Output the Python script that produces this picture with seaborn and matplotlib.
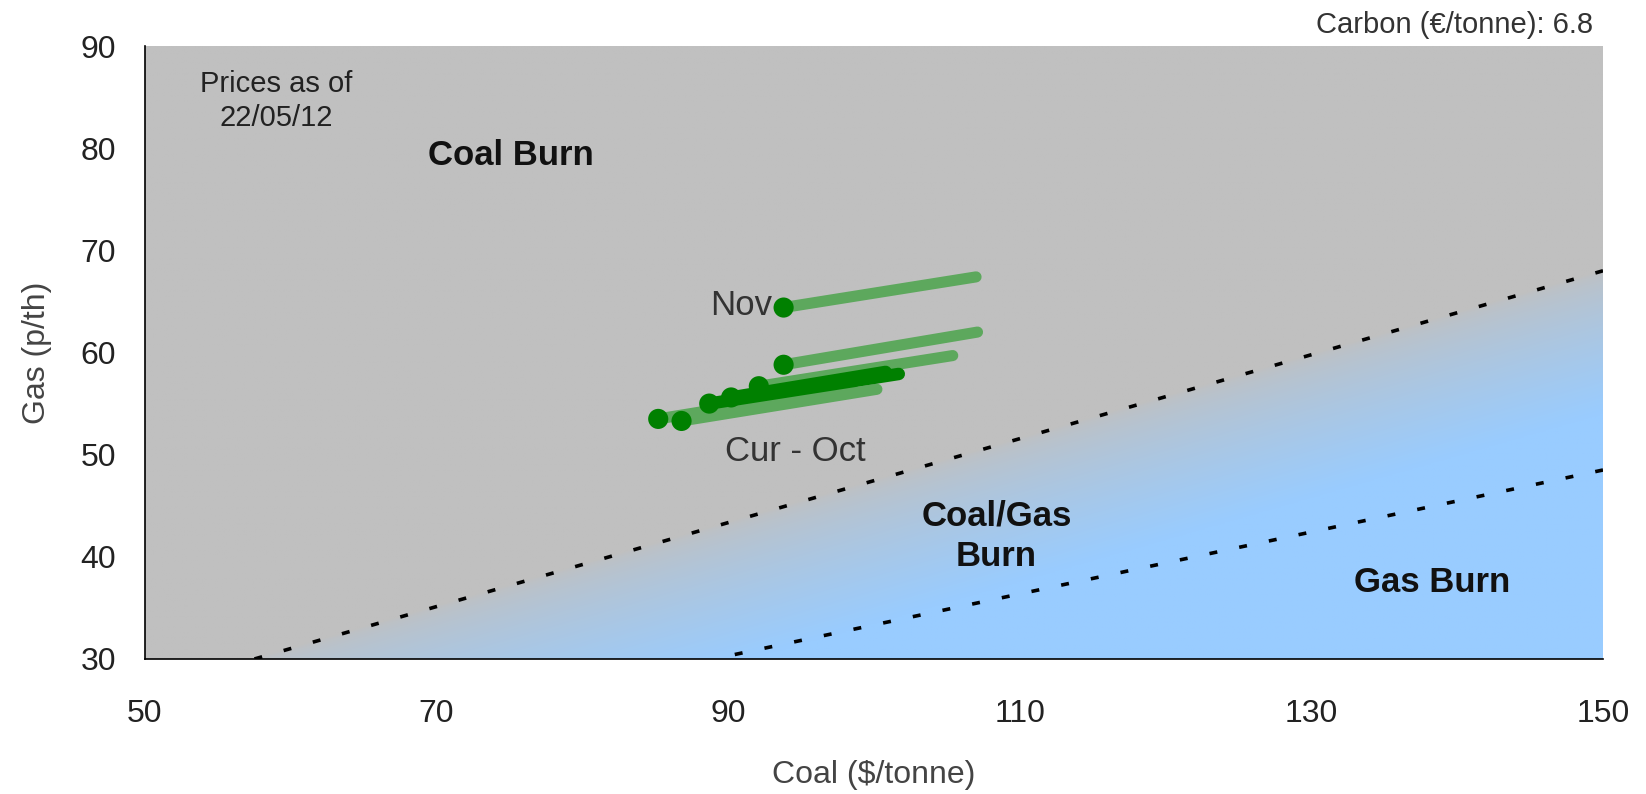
import matplotlib
matplotlib.use("Agg")
import matplotlib.pyplot as plt
import numpy as np
import pandas as pd
import seaborn as sns

# switching lines (coal $/t, gas p/th), drawn from the right-hand end
upper_coal = [150.0, 57.5]
upper_gas = [68.0, 30.0]
lower_coal = [150.0, 89.0]
lower_gas = [48.5, 30.0]

# forward contracts: current point and where the trail starts
contracts = ["Cur", "Jun", "Jul", "Aug", "Sep", "Oct", "Nov"]
coal_now = [85.2, 86.8, 88.7, 90.2, 92.1, 93.8, 93.8]
gas_now = [53.5, 53.3, 55.0, 55.6, 56.7, 58.8, 64.4]
coal_then = [98.5, 100.2, 101.7, 100.8, 105.4, 107.1, 107.0]
gas_then = [56.6, 56.4, 57.9, 58.1, 59.7, 62.0, 67.4]
trail_dark = [False, False, True, True, False, False, False]

GREY = np.array([0xC0, 0xC0, 0xC0]) / 255
BLUE = np.array([0x99, 0xCC, 0xFF]) / 255

sns.set_style("white")
plt.rcParams["font.family"] = ["Liberation Sans", "DejaVu Sans"]

fig = plt.figure(figsize=(16.46, 7.94), dpi=100)
ax = fig.add_axes([145 / 1646, 1 - 659 / 794, 1458 / 1646, 613 / 794])

# background: grey, fading to blue below the upper switching line
xs = np.linspace(50, 150, 800)
ys = np.linspace(30, 90, 500)
gx, gy = np.meshgrid(xs, ys)
edge = np.interp(gx, upper_coal[::-1], upper_gas[::-1])
t = np.clip((edge - gy) / 14.0, 0, 1)
t = np.sqrt(t) * 0.5 + t * 0.5
img = GREY[None, None, :] * (1 - t[..., None]) + BLUE[None, None, :] * t[..., None]
ax.imshow(img, extent=[50, 150, 30, 90], origin="lower", aspect="auto", zorder=0)

lines = pd.DataFrame({
    "coal": upper_coal + lower_coal,
    "gas": upper_gas + lower_gas,
    "line": ["upper", "upper", "lower", "lower"],
})
for name, grp in lines.groupby("line"):
    ax.plot(grp["coal"], grp["gas"], color="black", lw=2.6,
            linestyle=(0, (2.2, 6.2)), zorder=2)

for c0, g0, c1, g1, dark in zip(coal_now, gas_now, coal_then, gas_then, trail_dark):
    if dark:
        continue
    ax.plot([c0, c1], [g0, g1], color="#5DA85D", lw=8, solid_capstyle="round", zorder=3)
for c0, g0, c1, g1, dark in zip(coal_now, gas_now, coal_then, gas_then, trail_dark):
    if dark:
        ax.plot([c0, c1], [g0, g1], color="#008000", lw=9, solid_capstyle="round", zorder=4)

pts = pd.DataFrame({"coal": coal_now, "gas": gas_now, "contract": contracts})
sns.scatterplot(data=pts, x="coal", y="gas", ax=ax, color="#008000", s=210,
                marker="o", edgecolor="none", zorder=5)

ax.set_xlim(50, 150)
ax.set_ylim(30, 90)
ax.set_xticks(range(50, 151, 20))
ax.set_yticks(range(30, 91, 10))
ax.tick_params(direction="out", length=7, width=1.2, colors="black",
               labelcolor="#222222", labelsize=23)
ax.tick_params(axis="x", pad=22)
ax.tick_params(axis="y", pad=14)
for side in ["top", "right"]:
    ax.spines[side].set_visible(False)
for side in ["left", "bottom"]:
    ax.spines[side].set_color("black")
    ax.spines[side].set_linewidth(1.2)

ax.set_xlabel("Coal ($/tonne)", fontsize=23, color="#444444", labelpad=22)
ax.set_ylabel("Gas (p/th)", fontsize=23, color="#444444", labelpad=20)

ax.text(59.0, 84.6, "Prices as of\n22/05/12", fontsize=21, color="#222222",
        ha="center", va="center", linespacing=1.25)
ax.text(75.1, 79.3, "Coal Burn", fontsize=25, fontweight="bold", color="#111111",
        ha="center", va="center")
ax.text(108.4, 42.0, "Coal/Gas\nBurn", fontsize=25, fontweight="bold", color="#111111",
        ha="center", va="center", linespacing=1.3)
ax.text(138.3, 37.5, "Gas Burn", fontsize=25, fontweight="bold", color="#111111",
        ha="center", va="center")
ax.text(93.0, 64.6, "Nov", fontsize=25, color="#333333", ha="right", va="center")
ax.text(94.6, 50.3, "Cur - Oct", fontsize=25, color="#333333", ha="center", va="center")

fig.text(1593 / 1646, 1 - 25 / 794, "Carbon (€/tonne): 6.8", fontsize=21,
         color="#333333", ha="right", va="center")

fig.savefig("out.png", dpi=100)
